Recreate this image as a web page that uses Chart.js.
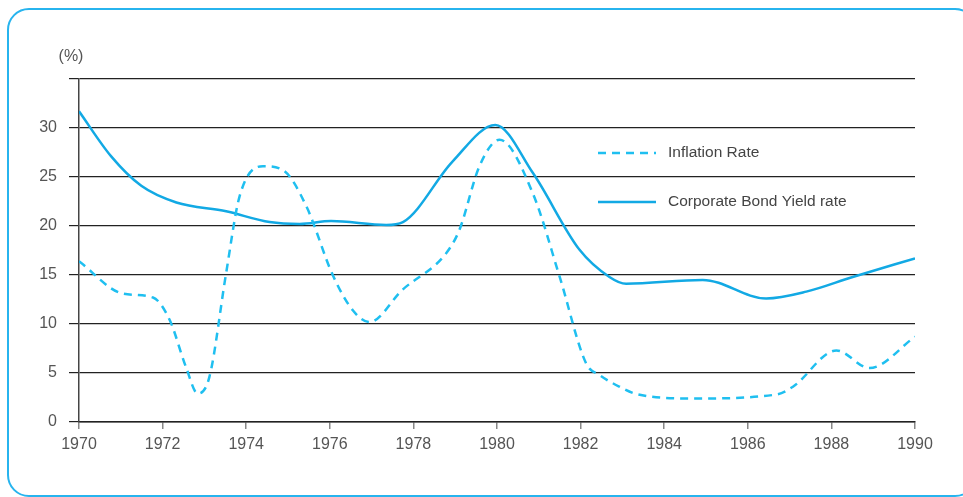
<!DOCTYPE html>
<html>
<head>
<meta charset="utf-8">
<script src="https://cdn.jsdelivr.net/npm/chart.js@4/dist/chart.umd.min.js"></script>
<style>
  html, body { margin: 0; padding: 0; background: #fff; overflow: hidden; }
  #wrap { position: relative; width: 963px; height: 497px; }
  #frame {
    position: absolute; left: 7px; top: 8px; width: 970px; height: 489px;
    border: 2px solid #27b4ee; border-radius: 22px; box-sizing: border-box;
  }
  canvas { position: absolute; left: 0; top: 0; }
</style>
</head>
<body>
<div id="wrap">
  <div id="frame"></div>
  <canvas id="myChart" width="963" height="497"></canvas>
</div>
<script>
// values
const inflationYears = [1970, 1971.05, 1971.77, 1972.17, 1972.56, 1972.84, 1973.12, 1973.52, 1973.84, 1974.4, 1974.88, 1975.44, 1976.07, 1976.55, 1976.95, 1977.74, 1978.78, 1979.1, 1979.58, 1980.06, 1980.86, 1981.5, 1982.13, 1982.45, 1982.93, 1983.3, 1984.68, 1986.68, 1987.08, 1988.12, 1988.91, 1990];
const inflationRate = [16.4, 13.1, 12.7, 10.4, 5.6, 2.9, 4.6, 15.2, 23.0, 26.1, 25.7, 22.0, 15.0, 11.4, 10.2, 13.5, 17.2, 19.6, 26.1, 28.8, 23.3, 14.8, 6.0, 4.8, 3.6, 2.9, 2.4, 2.8, 3.6, 7.3, 5.5, 8.7];

const bondYears = [1970, 1970.77, 1971.49, 1972.33, 1973.52, 1974.56, 1975.28, 1976.03, 1977.35, 1977.75, 1978.94, 1979.96, 1980.86, 1981.97, 1982.69, 1983.09, 1984.92, 1986.44, 1987.4, 1988.51, 1990];
const bondYield = [31.7, 27.1, 24.1, 22.4, 21.5, 20.4, 20.2, 20.5, 20.1, 20.4, 26.6, 30.3, 25.4, 17.6, 14.8, 14.1, 14.5, 12.6, 13.3, 14.8, 16.7];

const xTicks = [1970, 1972, 1974, 1976, 1978, 1980, 1982, 1984, 1986, 1988, 1990];
const yTicks = [0, 5, 10, 15, 20, 25, 30];
const seriesNames = ["Inflation Rate", "Corporate Bond Yield rate"];

const dashColor = "#1fbff0";
const solidColor = "#12a9e4";
const textColor = "#555";
const labelFont = "16px 'Liberation Sans', Arial, sans-serif";

// legend and unit label drawn on the canvas
const extras = {
  id: "extras",
  afterDraw(chart) {
    const ctx = chart.ctx;
    ctx.save();
    ctx.font = labelFont;
    ctx.fillStyle = textColor;
    ctx.textBaseline = "middle";
    ctx.textAlign = "center";
    ctx.fillText("(%)", 71, 57);

    ctx.font = "15.5px 'Liberation Sans', Arial, sans-serif";
    ctx.textAlign = "left";
    ctx.lineWidth = 2.5;
    // dashed entry
    ctx.strokeStyle = dashColor;
    ctx.setLineDash([8, 6]);
    ctx.beginPath();
    ctx.moveTo(598, 153);
    ctx.lineTo(656, 153);
    ctx.stroke();
    // solid entry
    ctx.strokeStyle = solidColor;
    ctx.setLineDash([]);
    ctx.beginPath();
    ctx.moveTo(598, 202);
    ctx.lineTo(656, 202);
    ctx.stroke();

    ctx.fillStyle = "#444";
    ctx.fillText(seriesNames[0], 668, 153);
    ctx.fillText(seriesNames[1], 668, 202);
    ctx.restore();
  }
};

const ctx = document.getElementById("myChart").getContext("2d");
const chart = new Chart(ctx, {
  type: "line",
  data: {
    datasets: [
      {
        label: seriesNames[0],
        data: inflationYears.map((yr, i) => ({ x: yr, y: inflationRate[i] })),
        borderColor: dashColor,
        borderWidth: 2.5,
        borderDash: [8, 6],
        pointRadius: 0,
        cubicInterpolationMode: "monotone",
        fill: false
      },
      {
        label: seriesNames[1],
        data: bondYears.map((yr, i) => ({ x: yr, y: bondYield[i] })),
        borderColor: solidColor,
        borderWidth: 2.5,
        pointRadius: 0,
        cubicInterpolationMode: "monotone",
        fill: false
      }
    ]
  },
  options: {
    responsive: false,
    animation: false,
    layout: { padding: { left: 0, top: 79, right: 48, bottom: 0 } },
    plugins: {
      legend: { display: false },
      tooltip: { enabled: false }
    },
    scales: {
      x: {
        type: "linear",
        min: 1970,
        max: 1990,
        afterFit: s => { s.height = 75; },
        afterBuildTicks: s => { s.ticks = xTicks.map(v => ({ value: v })); },
        grid: {
          drawOnChartArea: false,
          drawTicks: true,
          tickLength: 7,
          color: "#888",
          lineWidth: 1.5
        },
        border: { display: true, color: "#222", width: 1.5 },
        ticks: {
          padding: 6,
          color: textColor,
          font: { family: "'Liberation Sans', Arial, sans-serif", size: 16 },
          callback: v => String(v)
        }
      },
      y: {
        min: 0,
        max: 35,
        afterFit: s => { s.width = 79; },
        afterBuildTicks: s => { s.ticks = yTicks.concat([35]).map(v => ({ value: v })); },
        grid: {
          drawTicks: true,
          tickLength: 10,
          color: "#222",
          lineWidth: 1.2
        },
        border: { display: true, color: "#444", width: 1.5 },
        ticks: {
          padding: 12,
          color: textColor,
          font: { family: "'Liberation Sans', Arial, sans-serif", size: 16 },
          callback: v => (v === 35 ? "" : String(v))
        }
      }
    }
  },
  plugins: [extras]
});
</script>
</body>
</html>
